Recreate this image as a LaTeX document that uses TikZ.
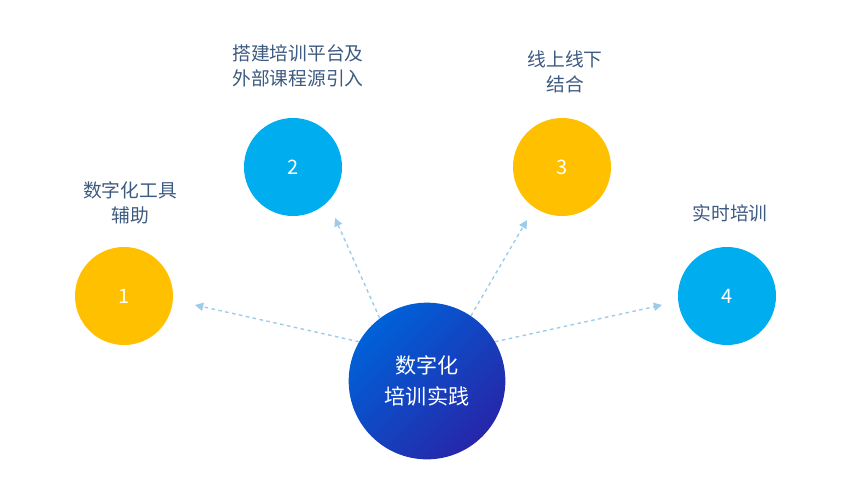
\documentclass[tikz,border=0pt]{standalone}
\usepackage{fontspec}
\setmainfont{Noto Sans CJK SC}
\usepackage{tikz}
\usetikzlibrary{arrows.meta, positioning}
\definecolor{goldc}{HTML}{FFC000}
\definecolor{cyanc}{HTML}{00AEEF}
\definecolor{labelc}{HTML}{3D5A80}
\definecolor{dashc}{HTML}{9DCCEB}
\tikzset{
    ball/.style={circle, minimum size=2.94cm, inner sep=0pt, text=white, font=\fontsize{17}{17}\selectfont},
    tag/.style={align=center, text=labelc, font=\fontsize{16}{21}\selectfont},
    link/.style={dashed, dashc, line width=1.2pt, -{Triangle[length=7pt,width=7pt]}}
}
\begin{document}
\begin{tikzpicture}[x=0.03cm, y=-0.03cm]
    \useasboundingbox (0,0) rectangle (852,500);
    % Centre
    \node[circle, minimum size=4.7cm, inner sep=0pt, text=white, align=center,
          font=\fontsize{18}{27}\selectfont, left color=blue!55!cyan!85!black, right color=blue!60!black!85,
          shading angle=45] (hub) at (427,381) {数字化\\培训实践};
    \shade[ball=none] (0,0);
    % Satellites
    \node[ball, fill=goldc] (n1) at (124,296) {1};
    \node[ball, fill=cyanc] (n2) at (293,167) {2};
    \node[ball, fill=goldc] (n3) at (562,167) {3};
    \node[ball, fill=cyanc] (n4) at (727,296) {4};
    % Labels
    \node[tag] (t1) at (130,203) {数字化工具\\辅助};
    \node[tag] (t2) at (298,66) {搭建培训平台及\\外部课程源引入};
    \node[tag] (t3) at (565,72) {线上线下\\结合};
    \node[tag] (t4) at (730,213) {实时培训};
    % Arrows
    \coordinate (e1) at (195,305);
    \coordinate (e2) at (335,218);
    \coordinate (e3) at (527,220);
    \coordinate (e4) at (662,305);
    \draw[link] (hub.150) -- (e1);
    \draw[link] (hub.127) -- (e2);
    \draw[link] (hub.56) -- (e3);
    \draw[link] (hub.30) -- (e4);
\end{tikzpicture}
\end{document}
